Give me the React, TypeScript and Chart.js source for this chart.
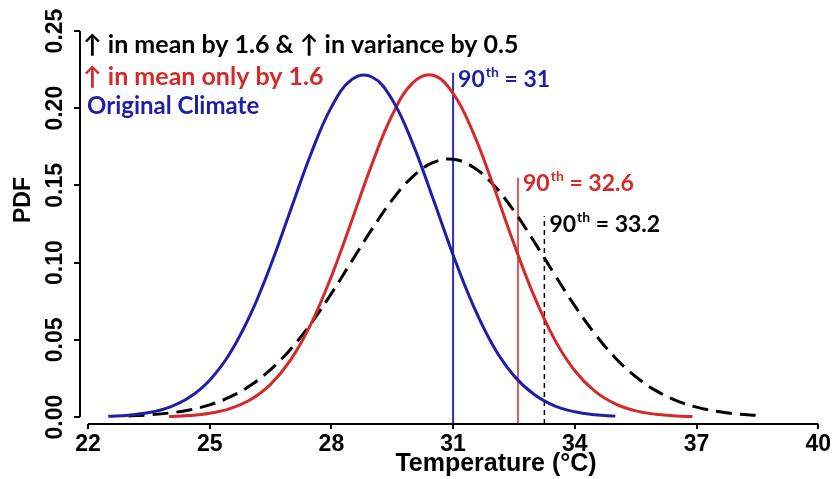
import React, { useEffect, useRef } from "react";
import { Chart, registerables } from "chart.js";

Chart.register(...registerables);

// ---- data ----
const xTicks = [22, 25, 28, 31, 34, 37, 40];
const yTicks = [0, 0.05, 0.1, 0.15, 0.2, 0.25];

// Original climate (blue)
const blueX = [22.5, 23, 23.5, 24, 24.5, 25, 25.5, 26, 26.5, 27, 27.5, 28, 28.5, 29, 29.5, 30, 30.5, 31, 31.5, 32, 32.5, 33, 33.5, 34, 34.5, 35];
const blueY = [0.0005, 0.0012, 0.0029, 0.0063, 0.0128, 0.0239, 0.0413, 0.0661, 0.098, 0.1344, 0.1707, 0.2007, 0.2185, 0.2202, 0.2055, 0.1774, 0.1419, 0.105, 0.072, 0.0456, 0.0268, 0.0146, 0.0073, 0.0034, 0.0015, 0.0006];

// Increase in mean only (red)
const redX = [24, 24.5, 25, 25.5, 26, 26.5, 27, 27.5, 28, 28.5, 29, 29.5, 30, 30.5, 31, 31.5, 32, 32.5, 33, 33.5, 34, 34.5, 35, 35.5, 36, 36.5, 36.9];
const redY = [0.0004, 0.001, 0.0025, 0.0055, 0.0112, 0.0212, 0.0372, 0.0605, 0.0911, 0.127, 0.1638, 0.1956, 0.2162, 0.2213, 0.2096, 0.1839, 0.1493, 0.1122, 0.0781, 0.0503, 0.03, 0.0166, 0.0085, 0.004, 0.0018, 0.0007, 0.0003];

// Increase in mean and variance (black dashed)
const blackX = [23, 23.5, 24, 24.5, 25, 25.5, 26, 26.5, 27, 27.5, 28, 28.5, 29, 29.5, 30, 30.5, 31, 31.5, 32, 32.5, 33, 33.5, 34, 34.5, 35, 35.5, 36, 36.5, 37, 37.5, 38, 38.5];
const blackY = [0.0007, 0.0014, 0.0026, 0.0046, 0.0079, 0.013, 0.0204, 0.0307, 0.0441, 0.0607, 0.08, 0.1009, 0.1217, 0.1407, 0.1556, 0.1647, 0.1669, 0.1618, 0.1502, 0.1335, 0.1135, 0.0924, 0.072, 0.0537, 0.0383, 0.0262, 0.0171, 0.0107, 0.0064, 0.0037, 0.002, 0.0011];

// 90th percentile markers
const p90X = [31, 32.6, 33.25];
const p90Top = [0.223, 0.155, 0.13];
const p90Labels = ["31", "32.6", "33.2"];
const lineBottom = -0.0045;

const legendLines = [
  "\u2191 in mean by 1.6 & \u2191 in variance by 0.5",
  "\u2191 in mean only by 1.6",
  "Original Climate",
];

const BLUE = "#1e1ea6";
const RED = "#d42a2a";
const BLACK = "#000000";

const pts = (xs: number[], ys: number[]) => xs.map((x, i) => ({ x, y: ys[i] }));

const ANN_FONT = "bold 25px Lato, 'Noto Sans', sans-serif";
const BLUE_FONT = "bold 24px Lato, 'Noto Sans', sans-serif";
const P90_FONT = "bold 23px Lato, 'Noto Sans', sans-serif";
const AXIS_FONT_FAMILY = "'Liberation Sans', Arial, sans-serif";

function drawP90(ctx: CanvasRenderingContext2D, x: number, y: number, color: string, val: string) {
  ctx.fillStyle = color;
  ctx.textBaseline = "middle";
  ctx.textAlign = "left";
  ctx.font = P90_FONT;
  ctx.fillText("90", x, y);
  let w = ctx.measureText("90").width;
  ctx.font = "bold 14px Lato, 'Noto Sans', sans-serif";
  ctx.fillText("th", x + w + 1, y - 7);
  w += ctx.measureText("th").width + 1;
  ctx.font = P90_FONT;
  ctx.fillText(" = " + val, x + w, y);
}

const annotPlugin = {
  id: "annot",
  afterDatasetsDraw(chart: any) {
    const { ctx, chartArea, scales } = chart;
    const xs = scales.x;
    const ys = scales.y;
    ctx.save();
    // axis lines (R style, detached)
    ctx.strokeStyle = "#000";
    ctx.lineWidth = 2;
    ctx.beginPath();
    ctx.moveTo(xs.getPixelForValue(xTicks[0]), chartArea.bottom);
    ctx.lineTo(xs.getPixelForValue(xTicks[xTicks.length - 1]), chartArea.bottom);
    ctx.moveTo(chartArea.left, ys.getPixelForValue(yTicks[0]));
    ctx.lineTo(chartArea.left, ys.getPixelForValue(yTicks[yTicks.length - 1]));
    ctx.stroke();

    // axis titles
    ctx.fillStyle = "#000";
    ctx.font = `bold 25px ${AXIS_FONT_FAMILY}`;
    ctx.textAlign = "center";
    ctx.textBaseline = "middle";
    ctx.fillText("Temperature (\u00B0C)", 496, 464);
    ctx.font = `bold 23px ${AXIS_FONT_FAMILY}`;
    ctx.save();
    ctx.translate(24, 200);
    ctx.rotate(-Math.PI / 2);
    ctx.fillText("PDF", 0, 0);
    ctx.restore();

    // legend annotations
    ctx.font = ANN_FONT;
    ctx.textAlign = "left";
    ctx.textBaseline = "middle";
    ctx.fillStyle = BLACK;
    ctx.fillText(legendLines[0], 83, 45);
    ctx.fillStyle = RED;
    ctx.fillText(legendLines[1], 83, 77);
    ctx.fillStyle = BLUE;
    ctx.font = BLUE_FONT;
    ctx.fillText(legendLines[2], 87, 106);

    // 90th labels
    const colors = [BLUE, RED, BLACK];
    const offY = [0, -1, 1];
    p90X.forEach((v, i) => {
      const px = xs.getPixelForValue(v) + 5;
      const py = ys.getPixelForValue(p90Top[i]) + 7 + offY[i];
      drawP90(ctx, px, py, colors[i], p90Labels[i]);
    });
    ctx.restore();
  },
};

export default function App() {
  const ref = useRef<HTMLCanvasElement>(null);
  useEffect(() => {
    if (!ref.current) return;
    const chart = new Chart(ref.current, {
      type: "line",
      data: {
        datasets: [
          {
            label: "Original Climate",
            data: pts(blueX, blueY),
            borderColor: BLUE,
            borderWidth: 3,
            pointRadius: 0,
            tension: 0.4,
            fill: false,
          },
          {
            label: "in mean only",
            data: pts(redX, redY),
            borderColor: RED,
            borderWidth: 3,
            pointRadius: 0,
            tension: 0.4,
            fill: false,
          },
          {
            label: "in mean and variance",
            data: pts(blackX, blackY),
            borderColor: BLACK,
            borderWidth: 3,
            borderDash: [16, 8],
            pointRadius: 0,
            tension: 0.4,
            fill: false,
          },
          {
            label: "p90 blue",
            data: [{ x: p90X[0], y: lineBottom }, { x: p90X[0], y: p90Top[0] }],
            borderColor: "#2b2bc0",
            borderWidth: 2,
            pointRadius: 0,
          },
          {
            label: "p90 red",
            data: [{ x: p90X[1], y: lineBottom }, { x: p90X[1], y: p90Top[1] }],
            borderColor: "#e05a5a",
            borderWidth: 2,
            pointRadius: 0,
          },
          {
            label: "p90 black",
            data: [{ x: p90X[2], y: lineBottom }, { x: p90X[2], y: p90Top[2] }],
            borderColor: BLACK,
            borderWidth: 1.5,
            borderDash: [5, 4],
            pointRadius: 0,
          },
        ],
      },
      options: {
        animation: false,
        responsive: false,
        devicePixelRatio: 1,
        layout: { padding: { top: 31, right: 13, left: 0, bottom: 0 } },
        plugins: { legend: { display: false }, tooltip: { enabled: false } },
        scales: {
          x: {
            type: "linear",
            min: 21.803,
            max: 40,
            afterBuildTicks: (s: any) => {
              s.ticks = xTicks.map((v) => ({ value: v }));
            },
            afterFit: (s: any) => {
              s.height = 55;
            },
            border: { display: false },
            grid: { drawOnChartArea: false, drawTicks: true, tickLength: 5, color: "#000", lineWidth: 2 },
            ticks: {
              padding: 2,
              color: "#000",
              font: { family: AXIS_FONT_FAMILY, size: 23, weight: "bold" },
              maxRotation: 0,
              minRotation: 0,
              callback: (v: any) => String(v),
            },
          },
          y: {
            type: "linear",
            min: lineBottom,
            max: 0.25,
            afterBuildTicks: (s: any) => {
              s.ticks = yTicks.map((v) => ({ value: v }));
            },
            afterFit: (s: any) => {
              s.width = 80;
            },
            border: { display: false },
            grid: { drawOnChartArea: false, drawTicks: true, tickLength: 6, color: "#000", lineWidth: 2 },
            ticks: {
              padding: -4,
              crossAlign: "center",
              minRotation: 90,
              maxRotation: 90,
              color: "#000",
              font: { family: AXIS_FONT_FAMILY, size: 23, weight: "bold" },
              callback: (v: any) => Number(v).toFixed(2),
            },
          },
        },
      },
      plugins: [annotPlugin],
    } as any);
    return () => chart.destroy();
  }, []);
  return (
    <div style={{ position: "absolute", left: 0, top: 0, width: 833, height: 479, background: "#fff" }}>
      <canvas ref={ref} width={833} height={479} />
    </div>
  );
}
